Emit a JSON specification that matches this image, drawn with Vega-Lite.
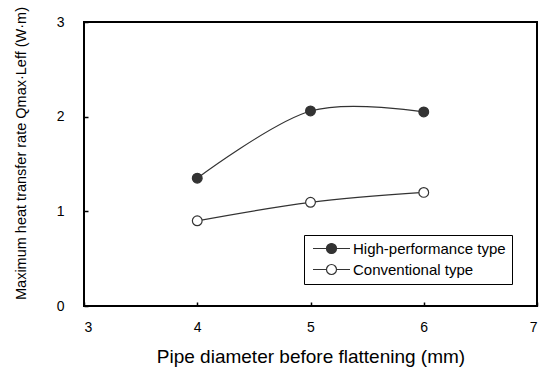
{
  "$schema": "https://vega.github.io/schema/vega-lite/v6.json",
  "width": 453,
  "height": 284,
  "autosize": "none",
  "padding": {"left": 84, "top": 22, "right": 2, "bottom": 70},
  "background": "white",
  "config": {
    "font": "Liberation Sans",
    "view": {"stroke": "black", "strokeWidth": 2},
    "axis": {"grid": false, "domain": false, "zindex": 1, "tickColor": "black", "tickWidth": 1.5, "tickSize": -4, "labelColor": "black", "titleColor": "black", "labelFont": "Liberation Sans", "titleFont": "Liberation Sans", "titleFontWeight": "normal"}
  },
  "data": {
    "values": [
      {"d": 4, "q": 1.35, "series": "High-performance type"},
      {"d": 5, "q": 2.06, "series": "High-performance type"},
      {"d": 6, "q": 2.05, "series": "High-performance type"},
      {"d": 4, "q": 0.9, "series": "Conventional type"},
      {"d": 5, "q": 1.095, "series": "Conventional type"},
      {"d": 6, "q": 1.2, "series": "Conventional type"}
    ]
  },
  "encoding": {
    "x": {"field": "d", "type": "quantitative", "scale": {"domain": [3, 7], "nice": false},
      "axis": {"values": [3, 4, 5, 6, 7], "title": "Pipe diameter before flattening (mm)", "labelFontSize": 14, "labelPadding": 18, "titleFontSize": 19, "titlePadding": 13}},
    "y": {"field": "q", "type": "quantitative", "scale": {"domain": [0, 3], "nice": false},
      "axis": {"values": [0, 1, 2, 3], "title": "Maximum heat transfer rate Qmax·Leff (W·m)", "labelFontSize": 14, "labelPadding": 24, "titleFontSize": 14.5, "titlePadding": 28, "titleY": 131}}
  },
  "layer": [
    {
      "mark": {"type": "line", "interpolate": "cardinal", "color": "#333333", "strokeWidth": 1.2},
      "encoding": {"detail": {"field": "series", "type": "nominal"}}
    },
    {
      "mark": {"type": "point", "shape": "circle", "stroke": "#333333", "strokeWidth": 1.2, "opacity": 1, "size": 95},
      "encoding": {
        "fill": {"field": "series", "type": "nominal",
          "scale": {"domain": ["High-performance type", "Conventional type"], "range": ["#333333", "white"]},
          "legend": {"title": null, "orient": "none", "legendX": 220, "legendY": 213,
            "strokeColor": "black", "fillColor": "white", "padding": 6,
            "symbolType": "M-3.7,0L-1,0M1,0L3.7,0M-1,0A1,1,0,1,1,1,0A1,1,0,1,1,-1,0Z",
            "symbolSize": 100, "symbolStrokeColor": "#333333", "symbolStrokeWidth": 1.2,
            "symbolOffset": 14, "labelOffset": 14, "labelFontSize": 15, "labelColor": "black", "rowPadding": 5, "labelFont": "Liberation Sans"}}
      }
    }
  ]
}
